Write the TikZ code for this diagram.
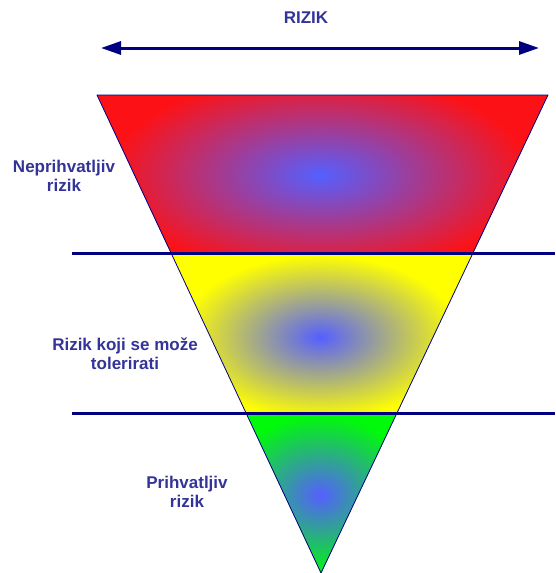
\documentclass[tikz,border=0pt]{standalone}
\usepackage{fontspec}
\setmainfont{Liberation Sans}
\usetikzlibrary{arrows.meta}
\definecolor{tamnoplava}{RGB}{0,0,128}
\definecolor{tekst}{RGB}{51,51,153}
\definecolor{sredina}{RGB}{85,95,255}
\definecolor{crvena}{RGB}{252,18,22}
\definecolor{zuta}{RGB}{255,255,0}
\definecolor{zelena}{RGB}{0,250,10}
\tikzset{
  oznaka/.style={text=tekst, font=\bfseries\fontsize{17}{19}\selectfont, align=center, inner sep=0pt},
  granica/.style={tamnoplava, line width=3pt},
}
\begin{document}
\begin{tikzpicture}[x=1pt, y=-1pt, >={Triangle[length=20pt, width=13pt]}]
  \useasboundingbox (0,0) rectangle (555,573);
  % Vrhovi trokuta i granice pojaseva
  \coordinate (A) at (97,95);
  \coordinate (B) at (548,95);
  \coordinate (C) at (321,573);
  \coordinate (L1) at (171,253); \coordinate (R1) at (473,253);
  \coordinate (L2) at (246,413); \coordinate (R2) at (397,413);

  % Crveni pojas
  \begin{scope}
    \clip (A) -- (B) -- (R1) -- (L1) -- cycle;
    \fill[crvena] (0,0) rectangle (555,573);
    \shade[inner color=sredina, outer color=crvena] (320,175) ellipse (210 and 100);
  \end{scope}
  % Zuti pojas
  \begin{scope}
    \clip (L1) -- (R1) -- (R2) -- (L2) -- cycle;
    \fill[zuta] (0,0) rectangle (555,573);
    \shade[inner color=sredina, outer color=zuta] (320,337) ellipse (140 and 82);
  \end{scope}
  % Zeleni pojas
  \begin{scope}
    \clip (L2) -- (R2) -- (C) -- cycle;
    \fill[zelena] (0,0) rectangle (555,573);
    \shade[inner color=sredina, outer color=zelena] (320,495) ellipse (95 and 80);
  \end{scope}

  % Obrub trokuta
  \draw[tamnoplava, line width=0.8pt, line join=round] (A) -- (B) -- (C) -- cycle;

  % Vodoravne crte
  \coordinate (P1) at (72,253); \coordinate (K1) at (555,253);
  \coordinate (P2) at (72,413); \coordinate (K2) at (555,413);
  \draw[granica] (P1) -- (K1);
  \draw[granica] (P2) -- (K2);

  % Strelica rizika
  \coordinate (S1) at (101,48); \coordinate (S2) at (539,48);
  \draw[tamnoplava, line width=3pt, <->] (S1) -- (S2);

  % Natpisi
  \node[oznaka] (rizik) at (306,18) {RIZIK};
  \node[oznaka] (neprihvatljiv) at (64,176) {Neprihvatljiv\\rizik};
  \node[oznaka] (tolerirati) at (125,354) {Rizik koji se može\\tolerirati};
  \node[oznaka] (prihvatljiv) at (187,492) {Prihvatljiv\\rizik};
\end{tikzpicture}
\end{document}
